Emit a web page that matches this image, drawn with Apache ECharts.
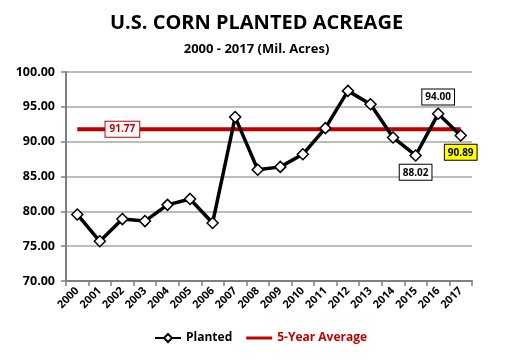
<!DOCTYPE html>
<html><head><meta charset="utf-8">
<script src="https://cdn.jsdelivr.net/npm/echarts@6/dist/echarts.min.js"></script>
<style>html,body{margin:0;padding:0;background:#fff}#c{width:513px;height:360px}</style>
</head><body><div id="c"></div>
<script>
var years = ['2000','2001','2002','2003','2004','2005','2006','2007','2008','2009','2010','2011','2012','2013','2014','2015','2016','2017'];
var planted = [79.55,75.70,78.89,78.60,80.93,81.78,78.33,93.53,85.98,86.38,88.19,91.94,97.29,95.37,90.60,88.02,94.00,90.89];
var fiveYearAvg = 91.77;
var avgValues = years.map(function(){return fiveYearAvg;});
var yTicks = [70,75,80,85,90,95,100];

var F = '"Open Sans","Liberation Sans",sans-serif';
var chart = echarts.init(document.getElementById('c'));

function boxLabel(pos, dist, bg){
  return {show:true, position:pos, distance:dist, formatter:function(p){return Number(p.value).toFixed(2);},
    backgroundColor:bg, borderColor:'#000', borderWidth:1, padding:[3,3,2,3], color:'#000', fontWeight:'bold', fontSize:10, fontFamily:F};
}
var plantedData = planted.map(function(v,i){
  var d = {value:v};
  if (i===16) d.label = boxLabel('top', 3, '#fff');
  if (i===15) d.label = boxLabel('bottom', 3, '#fff');
  if (i===17) d.label = boxLabel('bottom', 3, '#ffff00');
  return d;
});

chart.setOption({
  animation:false,
  title:[
    {text:'U.S. CORN PLANTED ACREAGE', left:'center', top:8, textStyle:{fontFamily:F, fontWeight:'bold', fontSize:20, color:'#000'}},
    {text:'2000 - 2017 (Mil. Acres)', left:'center', top:38, textStyle:{fontFamily:F, fontWeight:'bold', fontSize:13, color:'#000'}}
  ],
  grid:{left:66, right:41, top:72, bottom:79},
  legend:{bottom:11, left:149, itemGap:14, itemWidth:26, itemHeight:10, symbolKeepAspect:true,
    textStyle:{fontFamily:F, fontWeight:'bold', fontSize:12},
    data:[{name:'Planted', textStyle:{color:'#000'}},
          {name:'5-Year Average', textStyle:{color:'#c00000'}, icon:'path://M0,0 L26,0 L26,3 L0,3 Z', itemStyle:{color:'#c00000'}}]},
  xAxis:{type:'category', data:years, boundaryGap:true,
    axisLine:{lineStyle:{color:'#808080', width:2}},
    axisTick:{show:true, length:5, lineStyle:{color:'#808080', width:1.5}},
    axisLabel:{rotate:45, fontFamily:F, fontWeight:'bold', fontSize:11, color:'#000', margin:8}},
  yAxis:{type:'value', min:70, max:100, interval:5,
    axisLine:{show:true, lineStyle:{color:'#808080', width:2}},
    axisTick:{show:true, length:5, lineStyle:{color:'#808080', width:1.5}},
    splitLine:{lineStyle:{color:'#a6a6a6', width:1.5}},
    axisLabel:{fontFamily:F, fontWeight:'bold', fontSize:12.5, color:'#000', margin:11,
      formatter:function(v){return yTicks.indexOf(v)>=0 ? v.toFixed(2) : '';}}},
  series:[
    {name:'5-Year Average', type:'line', data:avgValues, symbol:'none', z:2,
      lineStyle:{color:'#c00000', width:4}, itemStyle:{color:'#c00000'},
      markPoint:{symbol:'rect', symbolSize:0, silent:true,
        data:[{coord:[years[2], fiveYearAvg], value:fiveYearAvg}],
        label:{show:true, position:'inside', formatter:function(p){return Number(p.value).toFixed(2);},
          backgroundColor:'#fff', borderColor:'#c00000', borderWidth:1, padding:[3,4,2,4], color:'#c00000', fontWeight:'bold', fontSize:10, fontFamily:F}}},
    {name:'Planted', type:'line', data:plantedData, symbol:'diamond', symbolSize:11, z:3,
      lineStyle:{color:'#000', width:3.5}, itemStyle:{color:'#fff', borderColor:'#000', borderWidth:1.5}}
  ]
});
</script></body></html>
